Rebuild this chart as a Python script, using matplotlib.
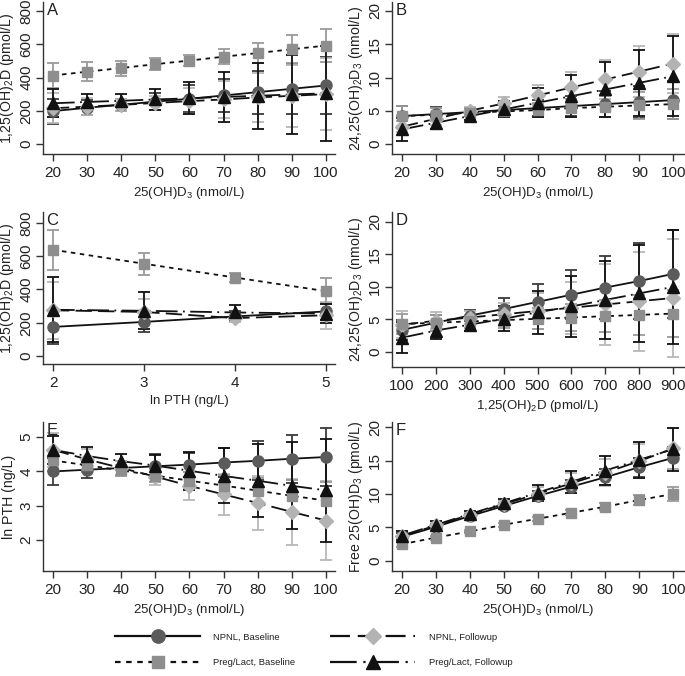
import numpy as np
import matplotlib.pyplot as plt
from matplotlib.lines import Line2D

plt.rcParams['font.family'] = ['Liberation Sans', 'DejaVu Sans']
plt.rcParams['mathtext.default'] = 'regular'

# x values
x_25 = [20, 30, 40, 50, 60, 70, 80, 90, 100]
x_pth = [2, 3, 4, 5]
x_125 = [100, 200, 300, 400, 500, 600, 700, 800, 900]

# Panel A: 1,25(OH)2D vs 25(OH)D3
a_npnl_base = [198, 218, 236, 255, 272, 292, 312, 332, 352]
a_npnl_base_err = [75, 45, 35, 50, 80, 100, 130, 150, 170]
a_npnl_fu = [215, 225, 235, 247, 258, 268, 280, 290, 300]
a_npnl_fu_err = [90, 50, 35, 40, 80, 110, 150, 185, 215]
a_preg_base = [412, 435, 457, 480, 502, 525, 547, 570, 592]
a_preg_base_err = [75, 58, 45, 35, 35, 45, 60, 85, 100]
a_preg_fu = [245, 253, 260, 268, 275, 283, 290, 298, 305]
a_preg_fu_err = [85, 45, 40, 65, 95, 150, 200, 240, 285]

# Panel B: 24,25(OH)2D3 vs 25(OH)D3
b_npnl_base = [4.2, 4.5, 4.8, 5.1, 5.4, 5.7, 6.0, 6.3, 6.6]
b_npnl_base_err = [1.5, 1.1, 0.6, 1.0, 1.2, 1.5, 1.9, 2.4, 2.8]
b_npnl_fu = [2.6, 3.8, 5.0, 6.1, 7.3, 8.5, 9.7, 10.9, 12.1]
b_npnl_fu_err = [0.8, 1.0, 0.6, 1.0, 1.5, 2.3, 3.0, 3.8, 4.5]
b_preg_base = [4.2, 4.4, 4.7, 4.9, 5.1, 5.4, 5.6, 5.8, 6.0]
b_preg_base_err = [1.5, 1.0, 0.5, 0.9, 1.1, 1.3, 1.6, 2.0, 2.3]
b_preg_fu = [2.2, 3.2, 4.2, 5.2, 6.2, 7.2, 8.2, 9.2, 10.2]
b_preg_fu_err = [1.7, 0.9, 0.6, 1.2, 2.2, 3.2, 4.1, 5.0, 6.0]

# Panel C: 1,25(OH)2D vs ln PTH
c_npnl_base = [175, 205, 238, 268]
c_npnl_base_err = [100, 60, 30, 50]
c_npnl_fu = [275, 265, 228, 245]
c_npnl_fu_err = [170, 75, 25, 80]
c_preg_base = [639, 555, 472, 390]
c_preg_base_err = [120, 65, 25, 80]
c_preg_fu = [278, 272, 262, 255]
c_preg_fu_err = [195, 110, 45, 55]

# Panel D: 24,25(OH)2D3 vs 1,25(OH)2D
d_npnl_base = [3.4, 4.5, 5.6, 6.6, 7.7, 8.8, 9.9, 10.9, 12.0]
d_npnl_base_err = [1.5, 1.2, 0.9, 1.7, 2.7, 3.8, 4.8, 5.8, 6.8]
d_npnl_fu = [4.2, 4.8, 5.3, 5.8, 6.3, 6.8, 7.3, 7.8, 8.3]
d_npnl_fu_err = [2.1, 1.3, 1.0, 1.8, 2.8, 4.0, 6.2, 7.6, 9.0]
d_preg_base = [4.3, 4.5, 4.7, 4.9, 5.1, 5.3, 5.5, 5.7, 5.9]
d_preg_base_err = [1.5, 1.2, 1.0, 1.2, 1.6, 2.0, 2.5, 3.1, 3.6]
d_preg_fu = [2.2, 3.3, 4.2, 5.1, 6.1, 7.0, 8.0, 9.0, 10.0]
d_preg_fu_err = [2.4, 1.3, 0.9, 1.9, 3.3, 4.7, 6.0, 7.4, 8.8]

# Panel E: ln PTH vs 25(OH)D3
e_npnl_base = [4.0, 4.05, 4.1, 4.15, 4.2, 4.26, 4.31, 4.37, 4.42]
e_npnl_base_err = [0.4, 0.25, 0.2, 0.35, 0.35, 0.43, 0.57, 0.7, 0.85]
e_npnl_fu = [4.63, 4.35, 4.1, 3.85, 3.58, 3.33, 3.08, 2.82, 2.57]
e_npnl_fu_err = [0.5, 0.3, 0.2, 0.25, 0.4, 0.6, 0.78, 0.95, 1.15]
e_preg_base = [4.32, 4.18, 4.03, 3.88, 3.73, 3.59, 3.44, 3.29, 3.15]
e_preg_base_err = [0.3, 0.2, 0.15, 0.2, 0.25, 0.3, 0.38, 0.45, 0.55]
e_preg_fu = [4.63, 4.45, 4.3, 4.17, 4.02, 3.87, 3.73, 3.58, 3.45]
e_preg_fu_err = [0.4, 0.25, 0.2, 0.3, 0.55, 0.8, 1.07, 1.27, 1.5]

# Panel F: free 25(OH)D3 vs 25(OH)D3
f_npnl_base = [3.6, 5.1, 6.7, 8.2, 9.7, 11.1, 12.5, 14.0, 15.4]
f_npnl_base_err = [0.5, 0.4, 0.3, 0.5, 0.8, 1.0, 1.2, 1.4, 1.6]
f_npnl_fu = [3.7, 5.3, 6.9, 8.5, 10.0, 11.6, 13.2, 14.9, 16.8]
f_npnl_fu_err = [0.8, 0.5, 0.4, 0.5, 1.0, 1.5, 2.0, 2.5, 3.0]
f_preg_base = [2.5, 3.5, 4.4, 5.4, 6.3, 7.2, 8.1, 9.1, 10.0]
f_preg_base_err = [0.4, 0.3, 0.2, 0.3, 0.3, 0.4, 0.5, 0.7, 1.0]
f_preg_fu = [3.8, 5.4, 7.0, 8.6, 10.2, 11.8, 13.5, 15.1, 16.7]
f_preg_fu_err = [0.7, 0.5, 0.4, 0.7, 1.2, 1.7, 2.2, 2.7, 3.2]

groups = ["NPNL, Baseline", "NPNL, Followup",
          "Preg/Lact, Baseline", "Preg/Lact, Followup"]

# style per group: marker, marker colour, bar colour, dashes
STYLE = {
    "NPNL, Baseline": dict(marker='o', mc='#5b5b5b', ec='#3a3a3a', ms=8,
                           dashes=None),
    "NPNL, Followup": dict(marker='D', mc='#b3b3b3', ec='#b8b8b8', ms=7,
                           dashes=(9, 3.5)),
    "Preg/Lact, Baseline": dict(marker='s', mc='#8e8e8e', ec='#9a9a9a',
                                ms=7.5, dashes=(2.5, 2.5)),
    "Preg/Lact, Followup": dict(marker='^', mc='#111111', ec='#111111',
                                ms=8, dashes=(12, 3, 1, 3)),
}

W, H = 685, 676


def px_axes(fig, left, right, top, bottom):
    """Axes placed by pixel edges (top-left origin)."""
    return fig.add_axes([left / W, 1 - bottom / H,
                         (right - left) / W, (bottom - top) / H])


def draw_panel(ax, x, series, errs, letter, xlabel, ylabel,
               xlim, ylim, xticks, yticks):
    for g, y, e in zip(groups, series, errs):
        s = STYLE[g]
        line, = ax.plot(x, y, color='#111111', lw=1.3, zorder=2)
        if s['dashes'] is not None:
            line.set_dashes(s['dashes'])
        ax.errorbar(x, y, yerr=e, fmt='none', ecolor=s['ec'], elinewidth=1.3,
                    capsize=4, capthick=1.3, zorder=3)
    for g, y in zip(groups, series):
        s = STYLE[g]
        ax.plot(x, y, linestyle='none', marker=s['marker'], ms=s['ms'],
                mfc=s['mc'], mec=s['mc'], zorder=4)
    ax.set_xlim(*xlim)
    ax.set_ylim(*ylim)
    ax.set_xticks(xticks)
    ax.set_yticks(yticks)
    ax.spines['top'].set_visible(False)
    ax.spines['right'].set_visible(False)
    for sp in ('left', 'bottom'):
        ax.spines[sp].set_color('#333333')
        ax.spines[sp].set_linewidth(1.0)
    ax.tick_params(direction='out', length=5, width=1, colors='#333333',
                   labelsize=11, labelcolor='#222222')
    ax.tick_params(axis='y', pad=2)
    for lab in ax.get_yticklabels():
        lab.set_rotation(90)
        lab.set_va('center')
    ax.set_xlabel(xlabel, fontsize=9.5, color='#222222', labelpad=4)
    ax.set_ylabel(ylabel, fontsize=10.2, color='#222222', labelpad=2)
    ax.text(0.012, 0.995, letter, transform=ax.transAxes, fontsize=12,
            va='top', ha='left', color='#222222')


fig = plt.figure(figsize=(W / 100, H / 100), dpi=100)

lab25 = '25(OH)D$_3$ (nmol/L)'
lab125 = '1,25(OH)$_2$D (pmol/L)'
lab2425 = '24,25(OH)$_2$D$_3$ (nmol/L)'

ax = px_axes(fig, 43, 335, 2, 154)
draw_panel(ax, x_25, [a_npnl_base, a_npnl_fu, a_preg_base, a_preg_fu],
           [a_npnl_base_err, a_npnl_fu_err, a_preg_base_err, a_preg_fu_err],
           'A', lab25, lab125, (17.07, 102.64), (-60, 854), x_25,
           [0, 200, 400, 600, 800])

ax = px_axes(fig, 392, 684, 2, 154)
draw_panel(ax, x_25, [b_npnl_base, b_npnl_fu, b_preg_base, b_preg_fu],
           [b_npnl_base_err, b_npnl_fu_err, b_preg_base_err, b_preg_fu_err],
           'B', lab25, lab2425, (17.05, 103.2), (-1.5, 21.35), x_25,
           [0, 5, 10, 15, 20])

ax = px_axes(fig, 43, 335, 212, 364)
draw_panel(ax, x_pth, [c_npnl_base, c_npnl_fu, c_preg_base, c_preg_fu],
           [c_npnl_base_err, c_npnl_fu_err, c_preg_base_err, c_preg_fu_err],
           'C', 'ln PTH (ng/L)', lab125, (1.89, 5.10), (-48, 866), x_pth,
           [0, 200, 400, 600, 800])

ax = px_axes(fig, 392, 684, 212, 367)
draw_panel(ax, x_125, [d_npnl_base, d_npnl_fu, d_preg_base, d_preg_fu],
           [d_npnl_base_err, d_npnl_fu_err, d_preg_base_err, d_preg_fu_err],
           'D', lab125, lab2425, (70.5, 932), (-2.3, 21.5), x_125,
           [0, 5, 10, 15, 20])

ax = px_axes(fig, 43, 335, 422, 571)
draw_panel(ax, x_25, [e_npnl_base, e_npnl_fu, e_preg_base, e_preg_fu],
           [e_npnl_base_err, e_npnl_fu_err, e_preg_base_err, e_preg_fu_err],
           'E', lab25, 'ln PTH (ng/L)', (17.07, 102.64), (1.1, 5.44), x_25,
           [2, 3, 4, 5])

ax = px_axes(fig, 392, 684, 422, 571)
draw_panel(ax, x_25, [f_npnl_base, f_npnl_fu, f_preg_base, f_preg_fu],
           [f_npnl_base_err, f_npnl_fu_err, f_preg_base_err, f_preg_fu_err],
           'F', lab25, 'Free 25(OH)D$_3$ (pmol/L)', (17.05, 103.2),
           (-1.5, 20.75), x_25, [0, 5, 10, 15, 20])

# legend, 2 x 2, column-first order
handles = []
for g in groups:
    s = STYLE[g]
    h = Line2D([], [], color='#111111', lw=1.6, marker=s['marker'],
               ms=s['ms'] * 1.2, mfc=s['mc'], mec=s['mc'])
    if s['dashes'] is not None:
        h.set_dashes(s['dashes'])
    handles.append(h)
order = [0, 2, 1, 3]
fig.legend([handles[i] for i in order], [groups[i] for i in order],
           ncol=2, loc='center', bbox_to_anchor=(0.458, 0.0385),
           frameon=False, fontsize=6.8, handlelength=9.0, handletextpad=1.4,
           columnspacing=3.7, labelspacing=1.75, labelcolor='#222222')

fig.savefig('out.png', dpi=100)
